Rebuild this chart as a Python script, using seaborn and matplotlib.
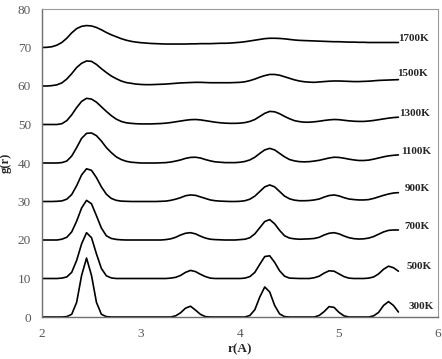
import numpy as np
import pandas as pd
import matplotlib
matplotlib.use("Agg")
import matplotlib.pyplot as plt
import seaborn as sns

r = np.round(np.arange(2.0, 5.601, 0.05), 2)

temps = ["300K", "500K", "700K", "900K", "1100K", "1300K", "1500K", "1700K"]
offsets = [0, 10, 20, 30, 40, 50, 60, 70]

# g(r), before the vertical shift
g_300 = [0, 0, 0, 0, 0, 0.1, 0.7, 3.8, 10.8, 15.3, 10.8, 3.8, 0.7, 0.1,
         0, 0, 0, 0, 0, 0, 0, 0, 0, 0, 0, 0, 0,
         0.3, 1.1, 2.3, 2.8, 1.8, 0.7, 0.1,
         0, 0, 0, 0, 0, 0, 0, 0,
         0.4, 1.9, 5.2, 7.8, 6.5, 3.0, 0.8, 0.1,
         0, 0, 0, 0, 0, 0,
         0.4, 1.4, 2.7, 2.5, 1.2, 0.3,
         0, 0, 0, 0, 0,
         0.3, 1.2, 3.0, 4.0, 3.0, 1.3]
g_500 = [0, 0, 0, 0, 0.1, 0.4, 1.6, 4.7, 9.0, 11.9, 10.6, 6.4, 2.6, 0.7, 0.15,
         0, 0, 0, 0, 0, 0, 0, 0, 0, 0, 0,
         0.1, 0.3, 0.8, 1.6, 2.1, 1.8, 1.1, 0.5, 0.1,
         0, 0, 0, 0, 0, 0,
         0.1, 0.5, 1.6, 3.7, 5.7, 5.9, 4.2, 2.0, 0.6, 0.1, 0.05,
         0, 0, 0,
         0.2, 0.6, 1.4, 2.0, 1.9, 1.2, 0.5, 0.1,
         0, 0, 0,
         0.1, 0.4, 1.2, 2.4, 3.2, 2.8, 1.9]
g_700 = [0, 0, 0, 0, 0.2, 0.7, 2.1, 4.9, 8.3, 10.3, 9.4, 6.3, 3.1, 1.1, 0.4, 0.15, 0.05,
         0, 0, 0, 0, 0, 0, 0, 0,
         0.1, 0.3, 0.7, 1.3, 1.75, 1.9, 1.6, 1.0, 0.5, 0.2, 0.1, 0.05,
         0, 0, 0,
         0.1, 0.2, 0.6, 1.6, 3.2, 4.8, 5.3, 4.2, 2.5, 1.1, 0.5, 0.3, 0.2, 0.25,
         0.3, 0.4, 0.7, 1.3, 1.75, 1.9, 1.6, 1.05, 0.6, 0.35, 0.25, 0.3,
         0.5, 0.9, 1.5, 2.1, 2.5, 2.6, 2.6]
g_900 = [0, 0, 0, 0.05, 0.15, 0.6, 1.8, 4.1, 6.9, 8.5, 8.1, 6.2, 3.8, 1.9, 0.8, 0.3, 0.1, 0.05,
         0, 0, 0, 0, 0, 0,
         0.05, 0.1, 0.3, 0.6, 1.0, 1.5, 1.7, 1.6, 1.2, 0.8, 0.4, 0.2, 0.1, 0.05, 0, 0,
         0.05, 0.2, 0.6, 1.4, 2.6, 3.8, 4.3, 3.8, 2.6, 1.4, 0.7, 0.35, 0.2, 0.2,
         0.25, 0.4, 0.65, 1.15, 1.55, 1.7, 1.45, 1.0, 0.65, 0.5, 0.4, 0.4,
         0.5, 0.8, 1.2, 1.6, 1.95, 2.2, 2.3]
g_1100 = [0, 0, 0, 0, 0.1, 0.5, 1.8, 4.0, 6.4, 7.7, 7.8, 7.1, 5.7, 4.0, 2.7, 1.6, 0.9, 0.45, 0.2, 0.1,
          0, 0, 0, 0,
          0.05, 0.1, 0.25, 0.5, 0.8, 1.2, 1.45, 1.5, 1.3, 0.9, 0.55, 0.3, 0.2, 0.1, 0.1, 0.1,
          0.2, 0.4, 0.8, 1.5, 2.5, 3.4, 3.8, 3.4, 2.5, 1.6, 0.9, 0.55, 0.35, 0.3,
          0.35, 0.5, 0.7, 1.0, 1.3, 1.5, 1.45, 1.25, 1.0, 0.8, 0.65, 0.65,
          0.75, 1.0, 1.3, 1.6, 1.85, 2.0, 2.1]
g_1300 = [0, 0, 0, 0, 0.2, 1.0, 2.5, 4.4, 6.0, 6.8, 6.6, 5.8, 4.6, 3.4, 2.3, 1.4, 0.8, 0.45, 0.3, 0.2,
          0.15, 0.15, 0.15, 0.2, 0.25, 0.35, 0.5, 0.7, 0.9, 1.1, 1.25, 1.3, 1.2, 1.0, 0.8, 0.6,
          0.45, 0.35, 0.3, 0.3,
          0.35, 0.5, 0.8, 1.3, 2.1, 2.9, 3.4, 3.3, 2.8, 2.1, 1.5, 1.0, 0.75, 0.6, 0.6,
          0.7, 0.85, 1.05, 1.2, 1.3, 1.25, 1.1, 0.95, 0.85, 0.8, 0.8,
          0.9, 1.05, 1.25, 1.45, 1.65, 1.8, 1.9]
g_1500 = [0, 0, 0.1, 0.3, 0.8, 1.8, 3.2, 4.8, 5.9, 6.5, 6.4, 5.6, 4.5, 3.5, 2.6, 1.9, 1.3, 0.9, 0.7, 0.5,
          0.4, 0.35, 0.35, 0.4, 0.45, 0.5, 0.6, 0.7, 0.8, 0.85, 0.9, 0.95, 0.95, 0.9, 0.85, 0.85,
          0.85, 0.85, 0.85, 0.9,
          0.95, 1.1, 1.4, 1.8, 2.3, 2.7, 3.0, 3.0, 2.8, 2.4, 2.0, 1.6, 1.3, 1.1, 1.0,
          0.95, 1.05, 1.15, 1.25, 1.3, 1.3, 1.25, 1.2, 1.15, 1.15, 1.2,
          1.25, 1.35, 1.45, 1.5, 1.55, 1.6, 1.65]
g_1700 = [0, 0.05, 0.2, 0.6, 1.3, 2.4, 3.8, 4.9, 5.5, 5.7, 5.6, 5.2, 4.6, 3.9, 3.3, 2.8, 2.3, 1.9, 1.6, 1.4,
          1.25, 1.15, 1.05, 1.0, 0.95, 0.9, 0.9, 0.9, 0.9, 0.9, 0.95, 0.95, 1.0, 1.0, 1.0, 1.05,
          1.1, 1.1, 1.15, 1.25,
          1.35, 1.5, 1.7, 1.9, 2.1, 2.3, 2.4, 2.4, 2.35, 2.25, 2.1, 1.95, 1.85, 1.8, 1.75,
          1.7, 1.65, 1.6, 1.55, 1.5, 1.5, 1.45, 1.4, 1.4, 1.35, 1.35,
          1.3, 1.3, 1.3, 1.3, 1.3, 1.3, 1.3]

curves = [g_300, g_500, g_700, g_900, g_1100, g_1300, g_1500, g_1700]

# label placement (hand placed text boxes in the original)
label_x = [5.70, 5.68, 5.66, 5.66, 5.63, 5.61, 5.59, 5.60]
label_y = [2.7, 13.1, 23.6, 33.4, 42.9, 52.9, 63.3, 72.4]

frames = []
for t, off, g in zip(temps, offsets, curves):
    frames.append(pd.DataFrame({"r": r, "g": np.array(g) + off, "T": t}))
df = pd.concat(frames, ignore_index=True)

sns.set_style("white")
plt.rcParams["font.family"] = ["Liberation Serif", "DejaVu Serif"]

fig = plt.figure(figsize=(4.42, 3.59), dpi=100)
ax = fig.add_axes([42 / 442, 42 / 359, 396 / 442, 308 / 359])

sns.lineplot(data=df, x="r", y="g", hue="T", palette=["black"] * len(temps),
             estimator=None, legend=False, linewidth=1.2, ax=ax)

for t, x, y in zip(temps, label_x, label_y):
    ax.text(x, y, t, fontsize=8, fontweight="bold", ha="left", va="center")

ax.set_xlim(2, 6)
ax.set_ylim(0, 80)
ax.set_xticks([2, 3, 4, 5, 6])
ax.set_yticks(range(0, 81, 10))
ax.tick_params(length=0, labelsize=9.5, labelcolor="#595959")
ax.tick_params(axis="x", pad=8)
ax.tick_params(axis="y", pad=8)

ax.set_xlabel("r(A)", fontsize=9.5, fontweight="bold", labelpad=2)
ax.set_ylabel("g(r)", fontsize=9, fontweight="bold")
ax.yaxis.set_label_coords(-0.076, 0.5)

for side in ["left", "bottom"]:
    ax.spines[side].set_color("#6f6f6f")
    ax.spines[side].set_linewidth(1.0)
for side in ["top", "right"]:
    ax.spines[side].set_color("#9a9a9a")
    ax.spines[side].set_linewidth(0.8)

fig.savefig("out.png", dpi=100)
